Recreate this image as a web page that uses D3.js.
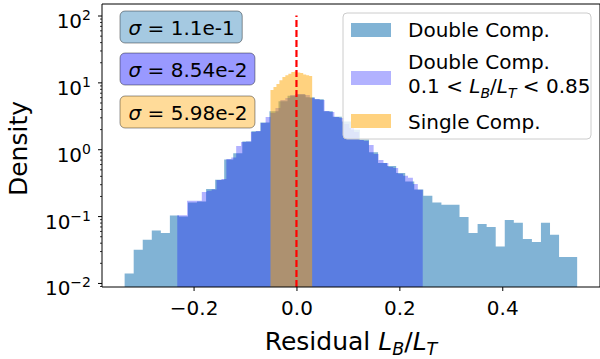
<!DOCTYPE html>
<html>
<head>
<meta charset="utf-8">
<script src="https://cdn.jsdelivr.net/npm/d3@7"></script>
<style>
  body { margin: 0; background: #fff; }
  text { font-family: "DejaVu Sans", sans-serif; fill: #000; }
</style>
</head>
<body>
<svg id="chart" width="600" height="359"></svg>
<script>
// Histogram of the residual L_B/L_T (density, log scale)
const doubleRange = [-0.334, 0.5456];
const doubleDensity = [
  0.0138, 0.0313, 0.0443, 0.061, 0.0557, 0.102, 0.099, 0.16, 0.165, 0.254,
  0.35, 0.70, 0.87, 1.30, 1.85, 2.50, 3.70, 5.20, 6.30, 6.60,
  6.00, 5.60, 3.70, 3.07, 2.60, 1.95, 1.40, 0.90, 0.62, 0.56,
  0.44, 0.33, 0.25, 0.201, 0.160, 0.148, 0.148, 0.0967, 0.0557, 0.076,
  0.0685, 0.0352, 0.0871, 0.0794, 0.0454, 0.0409, 0.0794, 0.0526, 0.0244, 0.0244
];
const restrictedRange = [-0.2317, 0.2454];
const restrictedDensity = [
  0.103, 0.103, 0.169, 0.169, 0.169, 0.230, 0.24, 0.25, 0.348, 0.360,
  0.716, 0.75, 1.12, 1.285, 1.30, 1.81, 1.88, 2.47, 3.03, 3.48,
  4.13, 5.44, 5.83, 6.46, 6.69, 6.69, 6.46, 5.83, 5.63, 5.44,
  3.73, 3.60, 3.03, 2.93, 2.39, 2.08, 1.81, 1.38, 1.33, 1.16,
  0.85, 0.693, 0.625, 0.544, 0.526, 0.428, 0.400, 0.373, 0.303, 0.247
];
const singleRange = [-0.0505, 0.0305];
const singleDensity = [7.67, 8.51, 9.43, 10.8, 12.0, 12.8, 13.5, 14.3, 14.5, 14.0, 13.8, 13.1, 12.8, 12.4];

const xTicks = [-0.2, 0, 0.2, 0.4];
const xTickLabels = ["\u22120.2", "0.0", "0.2", "0.4"];
const yTicks = [1e-2, 1e-1, 1, 10, 100];
const yTickExponents = ["\u22122", "\u22121", "0", "1", "2"];
const sigmaLabels = ["1.1e-1", "8.54e-2", "5.98e-2"];
const xDomain = [-0.378, 0.590];
const yDomain = [0.0087, 148.6];
const medianLine = 0;
const medianTop = 100;

const svg = d3.select("#chart");
const W = 600, H = 359;
const m = { left: 102, right: 600, top: 4, bottom: 287 };

const x = d3.scaleLinear().domain(xDomain).range([m.left, m.right]);
const y = d3.scaleLog().domain(yDomain).range([m.bottom, m.top]);

const colors = {
  double: { fill: "rgb(31,119,180)", op: 0.56 },
  restricted: { fill: "rgb(0,0,255)", op: 0.3 },
  single: { fill: "rgb(255,165,0)", op: 0.5 }
};

svg.append("defs").append("clipPath").attr("id", "plotclip")
  .append("rect").attr("x", m.left).attr("y", m.top)
  .attr("width", m.right - m.left).attr("height", m.bottom - m.top);

const plot = svg.append("g").attr("clip-path", "url(#plotclip)");

function stepPoints(range, values) {
  const n = values.length;
  const edges = d3.range(n + 1).map(i => range[0] + (range[1] - range[0]) * i / n);
  const pts = [[edges[0], yDomain[0]]];
  values.forEach((v, i) => { pts.push([edges[i], v]); pts.push([edges[i + 1], v]); });
  pts.push([edges[n], yDomain[0]]);
  return pts;
}
const line = d3.line().x(d => x(d[0])).y(d => y(d[1]));

[[doubleRange, doubleDensity, colors.double],
 [restrictedRange, restrictedDensity, colors.restricted],
 [singleRange, singleDensity, colors.single]].forEach(([r, v, c]) => {
  plot.append("path").attr("d", line(stepPoints(r, v)) + "Z")
    .attr("fill", c.fill).attr("fill-opacity", c.op).attr("stroke", "none");
});

// dashed reference line at zero residual
plot.append("line")
  .attr("x1", x(medianLine)).attr("x2", x(medianLine))
  .attr("y1", m.bottom).attr("y2", y(medianTop))
  .attr("stroke", "red").attr("stroke-width", 2.2).attr("stroke-dasharray", "7,3");

// axes
const xAxis = d3.axisBottom(x).tickValues(xTicks).tickSize(4).tickSizeOuter(0)
  .tickFormat((d, i) => xTickLabels[i]);
const gx = svg.append("g").attr("transform", `translate(0,${m.bottom})`).call(xAxis);
gx.select(".domain").remove();
gx.selectAll(".tick line").attr("stroke", "#000");
gx.selectAll(".tick text").attr("dy", null).attr("y", 28).attr("font-size", 20)
  .attr("font-family", "DejaVu Sans");

const minor = [];
for (let e = -3; e <= 2; e++) for (let k = 2; k <= 9; k++) {
  const v = k * Math.pow(10, e);
  if (v >= yDomain[0] && v <= yDomain[1]) minor.push(v);
}
const gyMinor = svg.append("g").attr("transform", `translate(${m.left},0)`)
  .call(d3.axisLeft(y).tickValues(minor).tickSize(2).tickSizeOuter(0).tickFormat(""));
gyMinor.select(".domain").remove();
gyMinor.selectAll(".tick line").attr("stroke", "#000").attr("stroke-width", 0.8);

const gy = svg.append("g").attr("transform", `translate(${m.left},0)`)
  .call(d3.axisLeft(y).tickValues(yTicks).tickSize(4).tickSizeOuter(0).tickFormat(""));
gy.select(".domain").remove();
gy.selectAll(".tick line").attr("stroke", "#000");
gy.selectAll(".tick").each(function (d, i) {
  const t = d3.select(this).append("text")
    .attr("x", -11).attr("y", 12).attr("text-anchor", "end")
    .attr("font-size", 20).attr("fill", "#000");
  t.append("tspan").text("10");
  t.append("tspan").attr("font-size", 14).attr("dy", -8).text(yTickExponents[i]);
});

// spines
const spines = svg.append("g").attr("stroke", "#000").attr("stroke-width", 1);
spines.append("line").attr("x1", m.left).attr("x2", m.left).attr("y1", m.top).attr("y2", m.bottom);
spines.append("line").attr("x1", m.left).attr("x2", m.right).attr("y1", m.bottom).attr("y2", m.bottom);
spines.append("line").attr("x1", m.left).attr("x2", m.right).attr("y1", m.top).attr("y2", m.top);
spines.append("line").attr("x1", m.right).attr("x2", m.right).attr("y1", m.top).attr("y2", m.bottom);

// mathtext-like rendering helper
function mathText(sel, parts) {
  let shift = 0;
  parts.forEach(p => {
    const ts = sel.append("tspan").text(p.t);
    if (p.i) ts.attr("font-style", "italic");
    const target = p.sub ? 5 : 0;
    if (target !== shift) { ts.attr("dy", target - shift); shift = target; }
    if (p.sub) ts.attr("font-size", "0.7em");
  });
}

// axis labels
const xl = svg.append("text").attr("x", (m.left + m.right) / 2).attr("y", 350)
  .attr("text-anchor", "middle").attr("font-size", 25);
mathText(xl, [{ t: "Residual " }, { t: "L", i: true }, { t: "B", i: true, sub: true },
  { t: "/" }, { t: "L", i: true }, { t: "T", i: true, sub: true }]);

svg.append("text").attr("transform", "translate(27,148.5) rotate(-90)")
  .attr("text-anchor", "middle").attr("font-size", 25).text("Density");

// sigma annotation boxes
const boxFills = [colors.double, colors.restricted, colors.single];
const boxBaselines = [35, 77, 120];
sigmaLabels.forEach((s, i) => {
  const g = svg.append("g");
  const rect = g.append("rect");
  const t = g.append("text").attr("x", 128.5).attr("y", boxBaselines[i]).attr("font-size", 20);
  mathText(t, [{ t: "\u03c3", i: true }, { t: " = " + s }]);
  const bb = t.node().getBBox();
  rect.attr("x", bb.x - 8.5).attr("y", boxBaselines[i] - 24)
    .attr("width", bb.width + 16).attr("height", 32)
    .attr("rx", 5).attr("ry", 5)
    .attr("fill", boxFills[i].fill).attr("fill-opacity", 0.4)
    .attr("stroke", "#000").attr("stroke-opacity", 0.4).attr("stroke-width", 1);
});

// legend
const lg = svg.append("g");
lg.append("rect").attr("x", 343).attr("y", 13).attr("width", 248).attr("height", 126)
  .attr("rx", 4).attr("fill", "#fff").attr("fill-opacity", 0.8)
  .attr("stroke", "#ccc").attr("stroke-width", 1);
const handleY = [23, 71, 114];
[colors.double, colors.restricted, colors.single].forEach((c, i) => {
  lg.append("rect").attr("x", 351).attr("y", handleY[i]).attr("width", 40).attr("height", 14)
    .attr("fill", c.fill).attr("fill-opacity", c.op);
});
lg.append("text").attr("x", 408).attr("y", 37).attr("font-size", 20).text("Double Comp.");
lg.append("text").attr("x", 408).attr("y", 68.5).attr("font-size", 20).text("Double Comp.");
const l2 = lg.append("text").attr("x", 408).attr("y", 93).attr("font-size", 20);
mathText(l2, [{ t: "0.1 < " }, { t: "L", i: true }, { t: "B", i: true, sub: true },
  { t: "/" }, { t: "L", i: true }, { t: "T", i: true, sub: true }, { t: " < 0.85" }]);
lg.append("text").attr("x", 408).attr("y", 128.5).attr("font-size", 20).text("Single Comp.");
</script>
</body>
</html>
